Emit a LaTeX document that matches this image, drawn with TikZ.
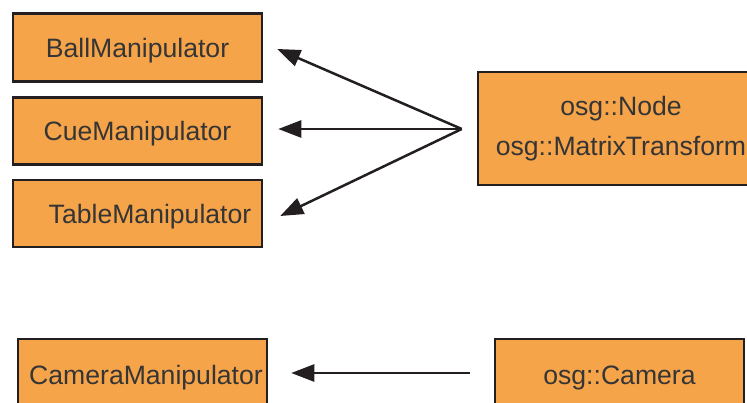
\documentclass[tikz,border=0pt]{standalone}
\usepackage{fontspec}
\setmainfont{Liberation Sans}
\usetikzlibrary{arrows.meta,calc}
\definecolor{boxfill}{HTML}{F6A44A}
\definecolor{boxline}{HTML}{231F20}
\definecolor{txt}{HTML}{353535}
\begin{document}
\begin{tikzpicture}[x=1pt,y=-1pt,
  cls/.style={draw=boxline, line width=2.5pt, fill=boxfill, text=txt,
    font=\fontsize{26.6}{40}\selectfont, inner sep=0pt,
    text height=19.5pt, text depth=0pt, minimum width=249pt},
  clsm/.style={draw=boxline, line width=2.5pt, fill=boxfill, text=txt,
    font=\fontsize{26.6}{40}\selectfont, inner sep=0pt, align=center},
  arr/.style={draw=boxline, line width=2.5pt, -{Triangle[length=23pt,width=17pt]}}]
\useasboundingbox (0,0) rectangle (747,403);
\clip (0,0) rectangle (747,403);
\node[cls, minimum height=68pt] (ball) at (137.5,47.5) {BallManipulator};
\node[cls, minimum height=67pt] (cue) at (137.5,131) {CueManipulator};
\node[cls, minimum height=67pt] (table) at (137.5,213.5) {\hspace{25pt}TableManipulator};
\node[clsm, minimum width=286pt, minimum height=113pt] (mt) at (621,128.5) {osg::Node\\osg::MatrixTransform};
\node[cls, minimum height=72pt] (cman) at (142.5,375) {\hspace{7pt}CameraManipulator};
\node[cls, minimum height=72pt] (cam) at (619.5,375) {osg::Camera};
\coordinate (hub) at ($(mt.west)+(-15,0.5)$);
\draw[arr] (hub) -- ($(ball.east)+(14,1.5)$);
\draw[arr] (hub) -- ($(cue.east)+(15,-2)$);
\draw[arr] (hub) -- ($(table.east)+(17,2.5)$);
\draw[arr] ($(cam.west)+(-24,-2)$) -- ($(cman.east)+(23,-2)$);
\end{tikzpicture}
\end{document}
